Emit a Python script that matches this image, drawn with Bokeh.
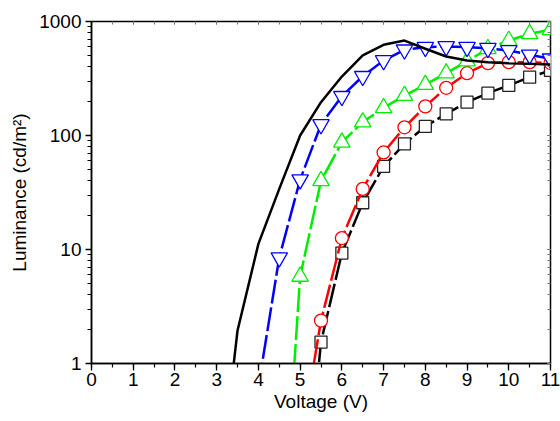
from bokeh.plotting import figure
from bokeh.models import Range1d, LinearAxis, LogAxis, SingleIntervalTicker, LogTicker, PrintfTickFormatter, CustomJSTickFormatter
from bokeh.embed import file_html
from bokeh.resources import INLINE

# ---- data ----
v_ref = [3.0, 3.5, 4.0, 4.5, 5.0, 5.5, 6.0, 6.5, 7.0, 7.5, 8.0, 8.5, 9.0, 9.5, 10.0, 10.5, 11.0]
l_ref = [0.05, 1.95, 11.2, 34, 100, 196, 329, 505, 625, 680, 577, 493, 455, 440, 431, 425, 420]

v_blue = [4.0, 4.5, 5.0, 5.5, 6.0, 6.5, 7.0, 7.5, 8.0, 8.5, 9.0, 9.5, 10.0, 10.5, 11.0]
l_blue = [0.63, 8.5, 41, 125, 221, 331, 455, 565, 595, 604, 595, 583, 557, 510, 471]

v_green = [4.5, 5.0, 5.5, 6.0, 6.5, 7.0, 7.5, 8.0, 8.5, 9.0, 9.5, 10.0, 10.5, 11.0]
l_green = [0.01, 5.8, 40, 87, 131, 175, 224, 279, 352, 449, 576, 681, 780, 845]

v_red = [5.0, 5.5, 6.0, 6.5, 7.0, 7.5, 8.0, 8.5, 9.0, 9.5, 10.0, 10.5, 11.0]
l_red = [0.19, 2.38, 12.6, 34, 71, 118, 180, 262, 352, 431, 440, 440, 432]

v_sq = [5.0, 5.5, 6.0, 6.5, 7.0, 7.5, 8.0, 8.5, 9.0, 9.5, 10.0, 10.5, 11.0]
l_sq = [0.02, 1.54, 9.3, 25.7, 53.5, 84.5, 120, 155, 196, 235, 275, 325, 372]

x_label = "Voltage (V)"
y_label = "Luminance (cd/m\u00b2)"

FONT = "Liberation Sans"

p = figure(width=560, height=421, x_range=Range1d(0, 11), y_range=Range1d(1, 1000),
           y_axis_type="log", output_backend="svg", toolbar_location=None,
           min_border_left=91, min_border_right=10, min_border_top=21, min_border_bottom=58)
p.background_fill_color = "white"
p.border_fill_color = "white"
p.outline_line_color = "black"
p.outline_line_width = 1.5
p.xgrid.visible = False
p.ygrid.visible = False

# bottom axis
xa = p.xaxis[0]
xa.ticker = SingleIntervalTicker(interval=1, num_minor_ticks=2)
xa.axis_label = x_label
for ax in (xa, p.yaxis[0]):
    ax.axis_line_color = "black"
    ax.axis_line_width = 1.5
    ax.major_tick_line_color = "black"
    ax.minor_tick_line_color = "black"
    ax.major_tick_line_width = 1.3
    ax.minor_tick_line_width = 1.2
    ax.major_tick_in = 0
    ax.minor_tick_in = 0
    ax.major_label_text_font = FONT
    ax.major_label_text_font_size = "19px"
    ax.major_label_text_color = "black"
    ax.axis_label_text_font = FONT
    ax.axis_label_text_font_size = "19px"
    ax.axis_label_text_font_style = "normal"
    ax.axis_label_text_color = "black"
xa.major_tick_out = 7
xa.minor_tick_out = 4
xa.major_label_standoff = 2
xa.axis_label_standoff = 2

ya = p.yaxis[0]
ya.ticker = LogTicker(num_minor_ticks=10)
ya.formatter = PrintfTickFormatter(format="%d")
ya.axis_label = y_label
ya.major_tick_out = 6
ya.minor_tick_out = 4
ya.major_label_standoff = 4
ya.axis_label_standoff = 6

# mirrored top and right axes with small inward ticks, no labels
blank = CustomJSTickFormatter(code="return ''")
top = LinearAxis(ticker=SingleIntervalTicker(interval=1, num_minor_ticks=2), formatter=blank)
right = LogAxis(ticker=LogTicker(num_minor_ticks=10), formatter=CustomJSTickFormatter(code="return ''"))
for ax in (top, right):
    ax.axis_line_color = None
    ax.major_tick_out = 0
    ax.minor_tick_out = 0
    ax.major_tick_in = 3
    ax.minor_tick_in = 3
    ax.major_tick_line_color = "#777777"
    ax.minor_tick_line_color = "#777777"
    ax.major_label_standoff = 0
p.add_layout(top, "above")
p.add_layout(right, "right")

LW = 2.5
DASH = "24 4"

# squares (black)
p.line(v_sq, l_sq, line_color="black", line_width=LW, line_dash=DASH)
p.scatter(v_sq, l_sq, marker="square", size=12, fill_color="white", line_color="#222222", line_width=1.3)
# circles (red)
p.line(v_red, l_red, line_color="red", line_width=LW, line_dash=DASH)
p.scatter(v_red, l_red, marker="circle", size=13, fill_color="white", line_color="red", line_width=1.3)
# up triangles (green)
p.line(v_green, l_green, line_color="#00ee00", line_width=LW, line_dash=DASH)
p.scatter(v_green, l_green, marker="triangle", size=16.5, fill_color="white", line_color="#00ee00", line_width=1.3)
# down triangles (blue)
p.line(v_blue, l_blue, line_color="blue", line_width=LW, line_dash=DASH)
p.scatter(v_blue, l_blue, marker="inverted_triangle", size=16.5, fill_color="white", line_color="blue", line_width=1.3)
# reference curve (black solid)
p.line(v_ref, l_ref, line_color="black", line_width=LW)

open("out.html", "w").write(file_html(p, INLINE))
